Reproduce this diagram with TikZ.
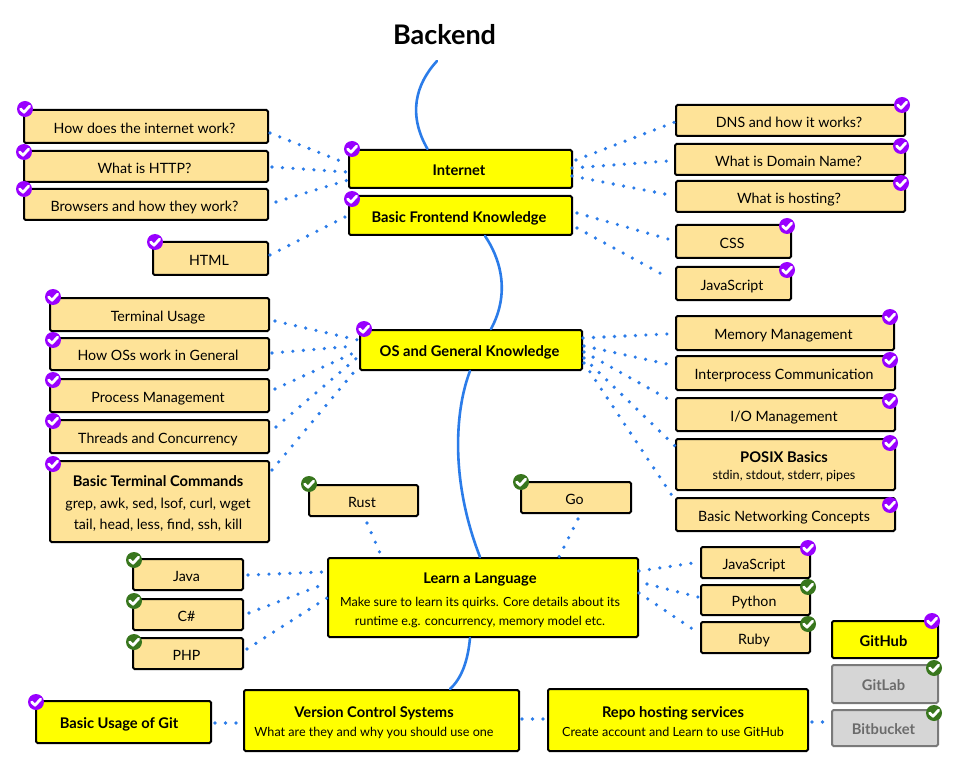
\documentclass[tikz,border=0pt]{standalone}
\usepackage{fontspec}
\setmainfont{Lato}
\usetikzlibrary{calc}
\definecolor{leafc}{HTML}{FEE398}
\definecolor{corec}{HTML}{FFFF00}
\definecolor{grayc}{HTML}{D6D6D6}
\definecolor{grayd}{HTML}{7A7A7A}
\definecolor{grayt}{HTML}{6B6B6B}
\definecolor{bluec}{HTML}{2B7CE9}
\definecolor{done}{HTML}{9900FF}
\definecolor{alt}{HTML}{38761D}
\newcommand{\tf}{\fontsize{14.2}{17}\selectfont}
\newcommand{\bt}{\fontsize{14.7}{17}\selectfont\bfseries}
\newcommand{\sm}{\fontsize{12.6}{15}\selectfont}
\tikzset{
  boxbase/.style={rectangle,rounded corners=1.5pt,line width=2pt,inner sep=0pt,outer sep=0pt,font=\tf},
  leaf/.style={boxbase,draw=black,fill=leafc,text=black},
  core/.style={boxbase,draw=black,fill=corec,text=black,font=\bt},
  grayb/.style={boxbase,draw=grayd,fill=grayc,text=grayt,font=\bt},
  spine/.style={draw=bluec,line width=2.6pt,line cap=round},
  dotline/.style={draw=bluec,line width=3.6pt,line cap=round,dash pattern=on 0pt off 10.5pt},
  chk/.style={circle,inner sep=0pt,minimum size=16pt,fill=#1},
  chkmark/.style={draw=white,line width=2.8pt,line cap=round,line join=round}
}
\newcommand{\bx}[8][-3]{%
  \pgfmathsetmacro{\cxx}{(#4+#6)/2}\pgfmathsetmacro{\cyy}{(#5+#7)/2}%
  \pgfmathsetmacro{\ww}{#6-#4}\pgfmathsetmacro{\hh}{#7-#5}%
  \node[#3,minimum width=\ww pt,minimum height=\hh pt] (#2) at (\cxx,\cyy) {\kern#1pt\raisebox{-3.3pt}[\height][\depth]{\begin{tabular}{@{}c@{}}#8\end{tabular}}};}
\newcommand{\conn}[6]{\draw[dotline] ([shift={(#2,#3)}]#1) -- ([shift={(#5,#6)}]#4);}
\newcommand{\chkk}[4]{%
  \node[chk=#4] (#1) at (#2,#3) {};
  \draw[chkmark] ([shift={(-4.4,0)}]#1.center) -- ([shift={(-1,3.2)}]#1.center) -- ([shift={(4.6,-2.8)}]#1.center);}
\begin{document}
\begin{tikzpicture}[x=1pt,y=-1pt]
\useasboundingbox (0,0) rectangle (958,767);
\fill[white] (0,0) rectangle (958,767);
\node[font=\fontsize{27}{30}\selectfont\bfseries,inner sep=0pt] (title) at (444.5,35) {Backend};
\coordinate (spinetop) at (437,61);
% boxes
\bx{q1}{leaf}{24}{110}{268}{143}{How does the internet work?}
\bx{q2}{leaf}{24}{151}{268}{182}{What is HTTP?}
\bx{q3}{leaf}{24}{189}{268}{220}{Browsers and how they work?}
\bx{html}{leaf}{153}{242}{268}{275}{HTML}
\bx{internet}{core}{349}{150}{572}{188}{Internet}
\bx{bfk}{core}{349}{196}{572}{235}{Basic Frontend Knowledge}
\bx{dns}{leaf}{676}{105}{905}{136}{DNS and how it works?}
\bx{domain}{leaf}{675}{144}{905}{175}{What is Domain Name?}
\bx{hosting}{leaf}{676}{181}{905}{212}{What is hosting?}
\bx{css}{leaf}{676}{225}{791}{258}{CSS}
\bx{js}{leaf}{676}{267}{791}{300}{JavaScript}
\bx{os}{core}{360}{330}{582}{370}{OS and General Knowledge}
\bx{term}{leaf}{50}{298}{269}{331}{Terminal Usage}
\bx{osw}{leaf}{50}{338}{269}{370}{How OSs work in General}
\bx{proc}{leaf}{50}{379}{269}{412}{Process Management}
\bx{thr}{leaf}{50}{420}{269}{453}{Threads and Concurrency}
\bx{cmds}{leaf}{50}{461}{269}{542}{{\bt Basic Terminal Commands}\\[5pt]grep, awk, sed, lsof, curl, wget\\[4pt]tail, head, less, find, ssh, kill}
\bx{mem}{leaf}{676}{316}{894}{350}{Memory Management}
\bx{ipc}{leaf}{676}{356}{895}{390}{Interprocess Communication}
\bx{iom}{leaf}{676}{398}{895}{431}{I/O Management}
\bx{posix}{leaf}{676}{439}{895}{490}{{\bt POSIX Basics}\\{\sm stdin, stdout, stderr, pipes}}
\bx{net}{leaf}{676}{498}{895}{531}{Basic Networking Concepts}
\bx{rust}{leaf}{309}{485}{418}{516}{Rust}
\bx{go}{leaf}{521}{482}{631}{513}{Go}
\bx[-6]{learn}{core}{328}{558}{638}{637}{{\bt Learn a Language}\\[6pt]{\normalfont\sm Make sure to learn its quirks. Core details about its}\\[2pt]{\normalfont\sm runtime e.g. concurrency, memory model etc.}}
\bx{java}{leaf}{133}{559}{243}{590}{Java}
\bx{csh}{leaf}{133}{599}{243}{630}{C\#}
\bx{php}{leaf}{133}{638}{243}{669}{PHP}
\bx{jsb}{leaf}{701}{547}{810}{578}{JavaScript}
\bx{py}{leaf}{701}{585}{810}{615}{Python}
\bx{ruby}{leaf}{701}{622}{810}{653}{Ruby}
\bx{github}{core}{832}{621}{938}{658}{GitHub}
\bx{gitlab}{grayb}{832}{665}{938}{703}{GitLab}
\bx{bitb}{grayb}{832}{710}{938}{746}{Bitbucket}
\bx[-9]{git}{core}{36}{701}{211}{743}{Basic Usage of Git}
\bx[-15]{vcs}{core}{244}{690}{519}{751}{Version Control Systems\\[2pt]{\normalfont\sm What are they and why you should use one}}
\bx[-10]{repo}{core}{548}{689}{808}{751}{Repo hosting services\\[2pt]{\normalfont\sm Create account and Learn to use GitHub}}
% spine
\draw[spine] (spinetop) .. controls (415,85) and (408,115) .. ([shift={(-33,-1)}]internet.north);
\draw[spine] ([shift={(24.5,1)}]bfk.south) .. controls (498,255) and (512,290) .. ([shift={(20,-1)}]os.north);
\draw[spine] ([shift={(-1,1)}]os.south) .. controls (455,410) and (450,480) .. ([shift={(-3,-1)}]learn.north);
\draw[spine] ([shift={(-13,1)}]learn.south) .. controls (468,660) and (462,678) .. ([shift={(68.5,-1)}]vcs.north);
% connectors
\conn{q1.east}{2}{6.5}{internet.west}{-1}{-5}
\conn{q2.east}{4}{0.5}{internet.west}{-2}{3}
\conn{q3.east}{8}{-2.5}{internet.west}{-1}{11}
\conn{html.east}{2}{-3.5}{bfk.west}{-4}{1.5}
\conn{internet.east}{4}{-9}{dns.west}{-1}{1.5}
\conn{internet.east}{0}{-1}{domain.west}{-7}{1.5}
\conn{internet.east}{0}{7}{hosting.west}{-1}{-0.5}
\conn{bfk.east}{5}{-2.5}{css.west}{-8}{-2.5}
\conn{bfk.east}{5}{12.5}{js.west}{-7}{-5.5}
\conn{term.east}{6}{6.5}{os.west}{-2}{-10}
\conn{osw.east}{3}{-1}{os.west}{-5}{-4}
\conn{proc.east}{6}{-6.5}{os.west}{-2}{1}
\conn{thr.east}{7}{-9.5}{os.west}{-2}{7}
\conn{cmds.east}{3}{-31.5}{os.west}{-1}{16}
\conn{os.east}{1}{-12}{mem.west}{-9}{1}
\conn{os.east}{2}{-4}{ipc.west}{-9}{-9}
\conn{os.east}{2}{2}{iom.west}{-8}{-15.5}
\conn{os.east}{2}{8}{posix.west}{-1}{-18.5}
\conn{os.east}{2}{13}{net.west}{-3}{-17.5}
\conn{rust.south}{3.5}{7}{learn.north}{-103}{-5}
\conn{go.south}{2}{6}{learn.north}{76}{-1}
\conn{java.east}{5}{0.5}{learn.west}{-5}{-25.5}
\conn{csh.east}{6}{-1.5}{learn.west}{-1}{-14.5}
\conn{php.east}{4}{-4.5}{learn.west}{-1}{0.5}
\conn{learn.east}{1}{-26.5}{jsb.west}{-1}{-0.5}
\conn{learn.east}{9}{-13.5}{py.west}{-3}{-3}
\conn{learn.east}{1}{-4.5}{ruby.west}{-1}{-3.5}
\conn{git.east}{4}{1}{vcs.west}{-2}{2.5}
\conn{vcs.east}{3}{-1.5}{repo.west}{-2}{-1}
\conn{repo.east}{4}{2}{bitb.west}{0}{-6}
% badges
\chkk{c1}{25}{109}{done}
\chkk{c2}{24}{152}{done}
\chkk{c3}{24}{189}{done}
\chkk{c4}{155}{242}{done}
\chkk{c5}{352}{149}{done}
\chkk{c6}{352}{199}{done}
\chkk{c7}{902}{105}{done}
\chkk{c8}{901}{146}{done}
\chkk{c9}{901}{183}{done}
\chkk{c10}{787}{226}{done}
\chkk{c11}{787}{270}{done}
\chkk{c12}{53}{297}{done}
\chkk{c13}{53}{340}{done}
\chkk{c14}{53}{380}{done}
\chkk{c15}{53}{421}{done}
\chkk{c16}{53}{464}{done}
\chkk{c17}{364}{329}{done}
\chkk{c18}{890}{317}{done}
\chkk{c19}{890}{360}{done}
\chkk{c20}{890}{401}{done}
\chkk{c21}{890}{443}{done}
\chkk{c22}{890}{505}{done}
\chkk{c23}{309}{484}{alt}
\chkk{c24}{521}{482}{alt}
\chkk{c25}{134}{560}{alt}
\chkk{c26}{134}{601}{alt}
\chkk{c27}{134}{642}{alt}
\chkk{c28}{808}{548}{done}
\chkk{c29}{808}{587}{alt}
\chkk{c30}{808}{624}{alt}
\chkk{c31}{932}{621}{done}
\chkk{c32}{934}{668}{alt}
\chkk{c33}{934}{713}{alt}
\chkk{c34}{36}{702}{done}
\end{tikzpicture}
\end{document}
